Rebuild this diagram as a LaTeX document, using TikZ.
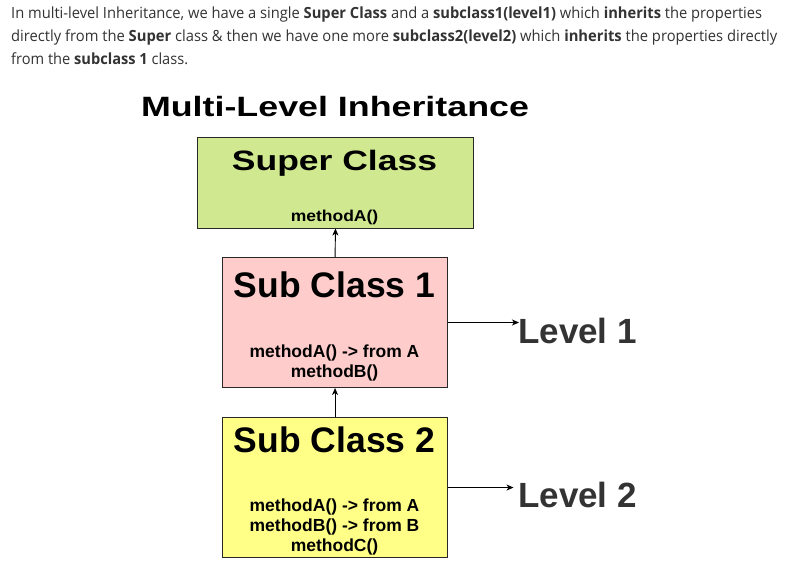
\documentclass[tikz,border=0pt]{standalone}
\usepackage{fontspec}
\setmainfont{Liberation Sans}
\newfontfamily\osans{Open Sans}
\usetikzlibrary{arrows.meta}
\definecolor{greenfill}{RGB}{208,233,144}
\definecolor{pinkfill}{RGB}{255,204,204}
\definecolor{yellowfill}{RGB}{255,255,136}
\definecolor{paratext}{RGB}{51,51,51}
\definecolor{lvltext}{RGB}{51,51,51}
\definecolor{edge}{RGB}{40,40,40}
\begin{document}
\begin{tikzpicture}[x=1pt,y=-1pt,
  classbox/.style={draw=edge,line width=1pt,inner sep=0pt,anchor=north west},
  heading/.style={inner sep=0pt,anchor=base,font=\fontsize{35.5}{40}\selectfont\bfseries},
  methods/.style={inner sep=0pt,anchor=base,align=center,font=\fontsize{17.5}{20}\selectfont\bfseries},
  lvl/.style={inner sep=0pt,anchor=base west,text=lvltext,font=\fontsize{35}{40}\selectfont\bfseries},
  para/.style={inner sep=0pt,anchor=base west,text=paratext,font=\osans\fontsize{15.4}{23}\selectfont},
  arr/.style={draw=black,line width=0.9pt,-{Stealth[length=7pt,width=6pt,inset=2pt]}}]
\useasboundingbox[fill=white] (0,0) rectangle (790,567);
% paragraph
\node[para] (p1) at (11,18.5) {\resizebox{751pt}{\height}{In multi-level Inheritance, we have a single \textbf{Super Class} and a \textbf{subclass1(level1)} which \textbf{inherits} the properties}};
\node[para] (p2) at (11,41.5) {\resizebox{766pt}{\height}{directly from the \textbf{Super} class \& then we have one more \textbf{subclass2(level2)} which \textbf{inherits} the properties directly}};
\node[para] (p3) at (11,64.5) {\resizebox{177pt}{\height}{from the \textbf{subclass 1} class.}};
% title
\node[inner sep=0pt,anchor=base] (title) at (335,116.5) {\fontsize{35.8}{40}\selectfont\bfseries\scalebox{1}[0.78]{Multi-Level Inheritance}};
% boxes
\node[classbox,fill=greenfill,minimum width=276pt,minimum height=90pt] (super) at (197,137.5) {};
\node[classbox,fill=pinkfill,minimum width=224.5pt,minimum height=130pt] (sub1) at (222.3,257) {};
\node[classbox,fill=yellowfill,minimum width=224.5pt,minimum height=139.5pt] (sub2) at (222.3,417.3) {};
% texts in boxes
\node[heading] (superT) at (334.5,170.5) {\scalebox{1}[0.79]{Super Class}};
\node[methods] (superM) at (334.5,221.5) {\scalebox{1}[0.9]{methodA()}};
\node[heading] (sub1T) at (334.5,297) {Sub Class 1};
\node[methods,anchor=north] (sub1M) at (334.5,345) {methodA() -> from A\\methodB()};
\node[heading] (sub2T) at (334.5,452) {Sub Class 2};
\node[methods,anchor=north] (sub2M) at (334.5,498.5) {methodA() -> from A\\methodB() -> from B\\methodC()};
% level labels
\node[lvl] (lvl1) at (518,343) {Level 1};
\node[lvl] (lvl2) at (518,507.7) {Level 2};
% connectors
\draw[arr] (sub1.east) -- ([xshift=1pt]sub1.east -| lvl1.west);
\draw[arr] (sub2.east) -- ([xshift=-4.5pt]sub2.east -| lvl2.west);
\draw[arr] (sub1.north) -- (super.south);
\draw[arr] (sub2.north) -- (sub1.south);
\end{tikzpicture}
\end{document}
